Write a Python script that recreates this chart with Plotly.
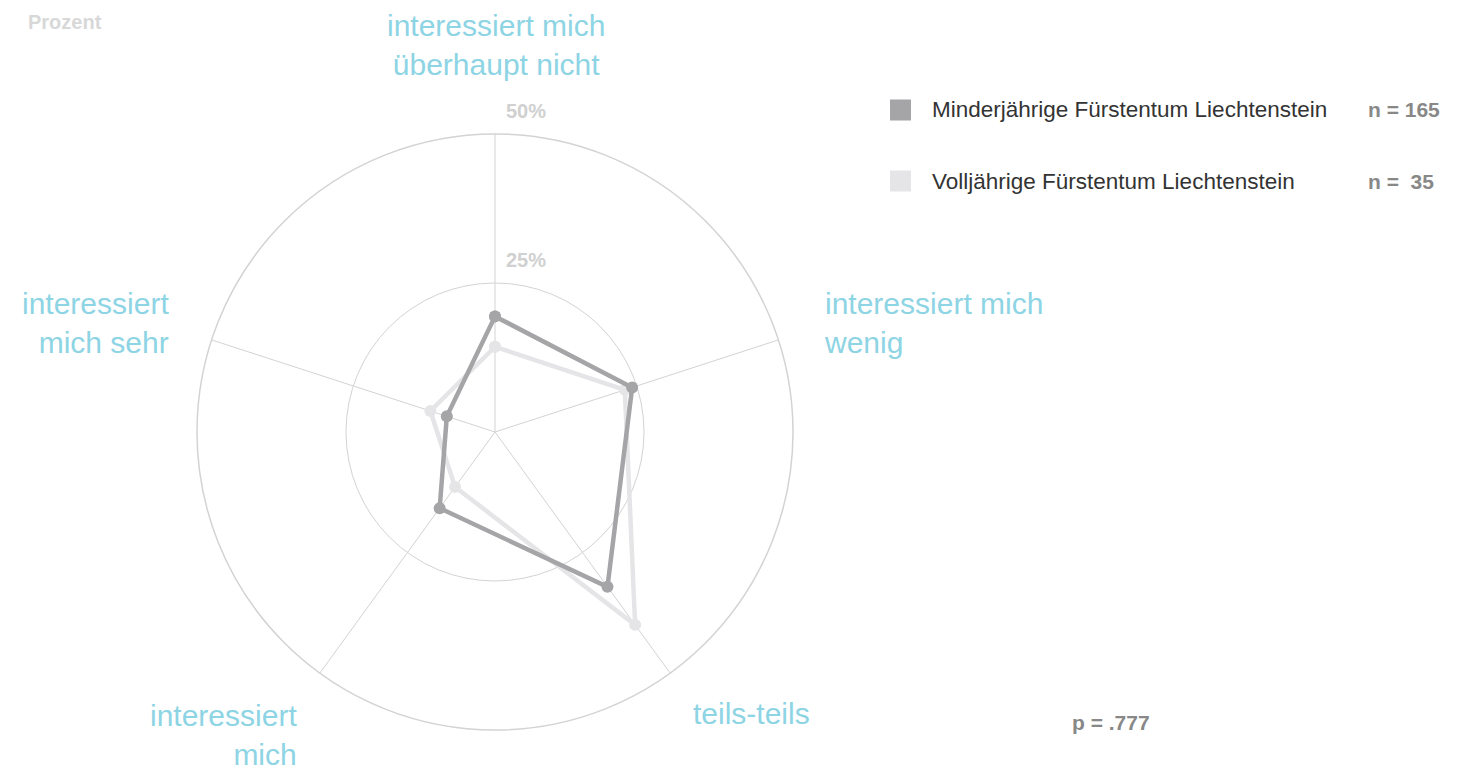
import plotly.graph_objects as go

categories = ["interessiert mich überhaupt nicht", "interessiert mich wenig", "teils-teils",
              "interessiert mich", "interessiert mich sehr"]
cat_labels = ["interessiert mich<br>überhaupt nicht", "interessiert mich<br>wenig", "teils-teils",
              "interessiert<br>mich", "interessiert<br>mich sehr"]
series_names = ["Minderjährige Fürstentum Liechtenstein", "Volljährige Fürstentum Liechtenstein"]
series_n = ["n = 165", "n =  35"]
minderjaehrige = [19.4, 24.2, 32.1, 15.8, 8.5]
volljaehrige = [14.3, 22.9, 40.0, 11.4, 11.4]
radial_ticks = [25, 50]
radial_tick_labels = ["25%", "50%"]
p_value = "p = .777"

W, H = 1475, 775
OFF = 8  # page body margin
CX, CY, R = 495, 432, 298
RMAX = 50

def px(x):
    return (x - OFF) / W

def py(y):
    return 1 - (y - OFF) / H

dark = "#a5a5a8"
light = "#e5e5e7"
blue = "#8dd4e4"
grid = "#d3d3d3"
FONT = "Liberation Sans"

fig = go.Figure()
for vals, col, name in [(volljaehrige, light, series_names[1]), (minderjaehrige, dark, series_names[0])]:
    fig.add_trace(go.Scatterpolar(
        r=vals + vals[:1], theta=categories + categories[:1], mode="lines+markers",
        line=dict(color=col, width=4.5), marker=dict(color=col, size=12),
        name=name, showlegend=False, hoverinfo="skip", cliponaxis=False))

fig.update_layout(
    width=W, height=H, paper_bgcolor="white", plot_bgcolor="white",
    margin=dict(l=0, r=0, t=0, b=0), showlegend=False,
    font=dict(family=FONT),
    polar=dict(
        domain=dict(x=[px(CX - R), px(CX + R)], y=[py(CY + R), py(CY - R)]),
        bgcolor="white",
        angularaxis=dict(categoryorder="array", categoryarray=categories, rotation=90,
                         direction="clockwise", showticklabels=False, ticks="",
                         showline=True, linecolor=grid, linewidth=1.5,
                         showgrid=True, gridcolor=grid, gridwidth=1.3),
        radialaxis=dict(range=[0, RMAX], tickvals=radial_ticks, showticklabels=False,
                        ticks="", showline=False, showgrid=True, gridcolor=grid,
                        gridwidth=1.3, angle=90),
    ),
)

ann = []
label_pos = [
    (496, 45, "center", "center"),
    (822, 323, "left", "left"),
    (751, 713, "center", "center"),
    (299, 735, "right", "right"),
    (171, 323, "right", "right"),
]
for lab, (x, y, xa, al) in zip(cat_labels, label_pos):
    ann.append(dict(text=lab, x=px(x), y=py(y), xref="paper", yref="paper", xanchor=xa,
                    yanchor="middle", align=al, showarrow=False,
                    font=dict(family=FONT, size=30, color=blue)))
for v, t in zip(radial_ticks, radial_tick_labels):
    ypix = CY - R * v / RMAX - 23
    ann.append(dict(text="<b>" + t + "</b>", x=px(CX + 31), y=py(ypix), xref="paper", yref="paper",
                    xanchor="center", yanchor="middle", showarrow=False,
                    font=dict(family=FONT, size=20, color="#d0d0d0")))
shapes = []
for i, (name, n, col) in enumerate(zip(series_names, series_n, [dark, light])):
    yc = 110 + i * 71
    shapes.append(dict(type="rect", xref="paper", yref="paper", x0=px(890), x1=px(911),
                       y0=py(yc + 10.5), y1=py(yc - 10.5), fillcolor=col, line=dict(width=0)))
    ann.append(dict(text=name, x=px(930), y=py(yc), xref="paper", yref="paper", xanchor="left",
                    yanchor="middle", showarrow=False, font=dict(family=FONT, size=22.5, color="#333333")))
    ann.append(dict(text="<b>" + n + "</b>", x=px(1366), y=py(yc), xref="paper", yref="paper",
                    xanchor="left", yanchor="middle", showarrow=False,
                    font=dict(family=FONT, size=21, color="#888888")))
ann.append(dict(text="<b>" + p_value + "</b>", x=px(1070), y=py(722), xref="paper", yref="paper",
                xanchor="left", yanchor="middle", showarrow=False,
                font=dict(family=FONT, size=21, color="#888888")))
ann.append(dict(text="<b>Prozent</b>", x=px(26), y=py(22), xref="paper", yref="paper",
                xanchor="left", yanchor="middle", showarrow=False,
                font=dict(family=FONT, size=20, color="#d8d8d8")))

fig.update_layout(annotations=ann, shapes=shapes)
fig.write_html("out.html")
